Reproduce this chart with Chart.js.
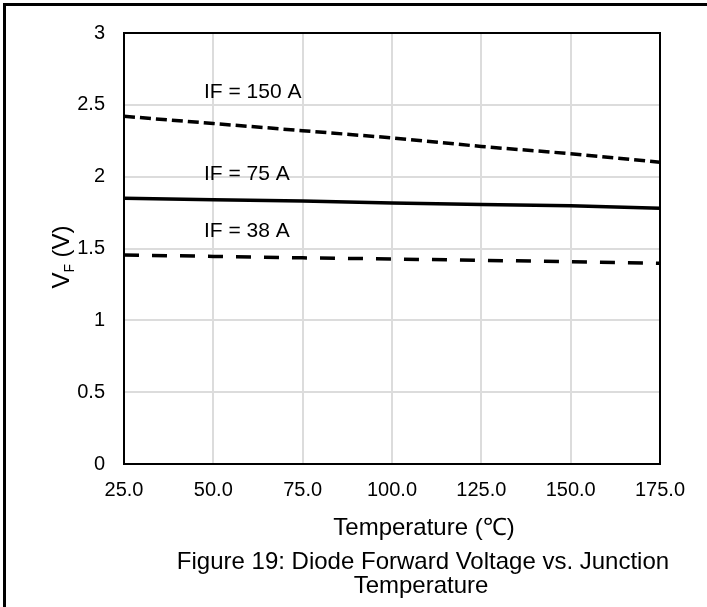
<!DOCTYPE html>
<html>
<head>
<meta charset="utf-8">
<script src="https://cdn.jsdelivr.net/npm/chart.js@4"></script>
<style>
  html, body { margin: 0; padding: 0; background: #fff; }
  canvas { display: block; }
</style>
</head>
<body>
<canvas id="vfChart" width="707" height="607"></canvas>
<script>
// Junction temperature (°C) and forward voltage (V) for each current
const temps = [25, 50, 75, 100, 125, 150, 175];
const vf150 = [2.42, 2.37, 2.32, 2.27, 2.21, 2.16, 2.10];
const vf75 = [1.85, 1.84, 1.83, 1.816, 1.807, 1.798, 1.78];
const vf38 = [1.455, 1.445, 1.435, 1.427, 1.418, 1.408, 1.397];
const seriesLabels = ['IF = 150 A', 'IF = 75 A', 'IF = 38 A'];
const xTicks = [25, 50, 75, 100, 125, 150, 175];
const yTicks = [0, 0.5, 1, 1.5, 2, 2.5, 3];

const FONT = '"Liberation Sans", Arial, sans-serif';

function toPoints(ys) {
    return temps.map((t, i) => ({ x: t, y: ys[i] }));
}

// frame, plot box, curve labels and axis titles
const extras = {
    id: 'extras',
    afterDatasetsDraw(chart) {
        const ctx = chart.ctx;
        const a = chart.chartArea;
        const xs = chart.scales.x, ys = chart.scales.y;
        ctx.save();
        ctx.strokeStyle = '#000';
        ctx.lineWidth = 2;
        ctx.strokeRect(a.left, a.top, a.right - a.left, a.bottom - a.top);

        ctx.fillStyle = '#000';
        ctx.fillRect(3, 3, 704, 3);
        ctx.fillRect(3, 3, 3, 604);

        // curve labels
        ctx.font = '21px ' + FONT;
        ctx.textAlign = 'left';
        ctx.textBaseline = 'middle';
        [vf150, vf75, vf38].forEach((s, i) => {
            ctx.fillText(seriesLabels[i], xs.getPixelForValue(temps[0]) + 80, ys.getPixelForValue(s[0]) - 24);
        });

        // x title + caption
        ctx.textAlign = 'center';
        ctx.textBaseline = 'alphabetic';
        ctx.font = '24px ' + FONT;
        ctx.fillText('Temperature (℃)', 424, 535);
        ctx.fillText('Figure 19: Diode Forward Voltage vs. Junction', 423, 569);
        ctx.fillText('Temperature', 421, 593);

        // y title V_F (V)
        ctx.translate(69, 257);
        ctx.rotate(-Math.PI / 2);
        const big = '24px ' + FONT, small = '14px ' + FONT;
        ctx.font = big;
        const wV = ctx.measureText('V').width;
        const wP = ctx.measureText(' (V)').width;
        ctx.font = small;
        const wF = ctx.measureText('F').width;
        let x0 = -(wV + wF + wP) / 2;
        ctx.textAlign = 'left';
        ctx.font = big;
        ctx.fillText('V', x0, 0);
        ctx.font = small;
        ctx.fillText('F', x0 + wV, 5);
        ctx.font = big;
        ctx.fillText(' (V)', x0 + wV + wF, 0);
        ctx.restore();
    }
};

const ctx = document.getElementById('vfChart').getContext('2d');
const vfChart = new Chart(ctx, {
    type: 'line',
    data: {
        datasets: [
            { label: seriesLabels[0], data: toPoints(vf150), borderColor: '#000', borderWidth: 3.5, borderDash: [11, 5], pointRadius: 0, fill: false },
            { label: seriesLabels[1], data: toPoints(vf75), borderColor: '#000', borderWidth: 3.5, pointRadius: 0, fill: false },
            { label: seriesLabels[2], data: toPoints(vf38), borderColor: '#000', borderWidth: 3.5, borderDash: [15, 13], pointRadius: 0, fill: false }
        ]
    },
    options: {
        responsive: false,
        animation: false,
        devicePixelRatio: 1,
        layout: { padding: { left: 0, top: 33, right: 47, bottom: 0 } },
        plugins: { legend: { display: false }, tooltip: { enabled: false } },
        scales: {
            x: {
                type: 'linear',
                min: 25,
                max: 175,
                afterBuildTicks: s => { s.ticks = xTicks.map(v => ({ value: v })); },
                afterFit: s => { s.height = 143; },
                ticks: {
                    callback: v => Number(v).toFixed(1),
                    font: { family: FONT, size: 20 },
                    color: '#000',
                    padding: 14,
                    maxRotation: 0
                },
                grid: { color: '#dcdcdc', lineWidth: 2, drawTicks: false },
                border: { display: false }
            },
            y: {
                min: 0,
                max: 3,
                afterBuildTicks: s => { s.ticks = yTicks.map(v => ({ value: v })); },
                afterFit: s => { s.width = 124; },
                ticks: {
                    callback: v => String(v),
                    font: { family: FONT, size: 20 },
                    color: '#000',
                    padding: 19
                },
                grid: { color: '#dcdcdc', lineWidth: 2, drawTicks: false },
                border: { display: false }
            }
        }
    },
    plugins: [extras]
});
</script>
</body>
</html>
